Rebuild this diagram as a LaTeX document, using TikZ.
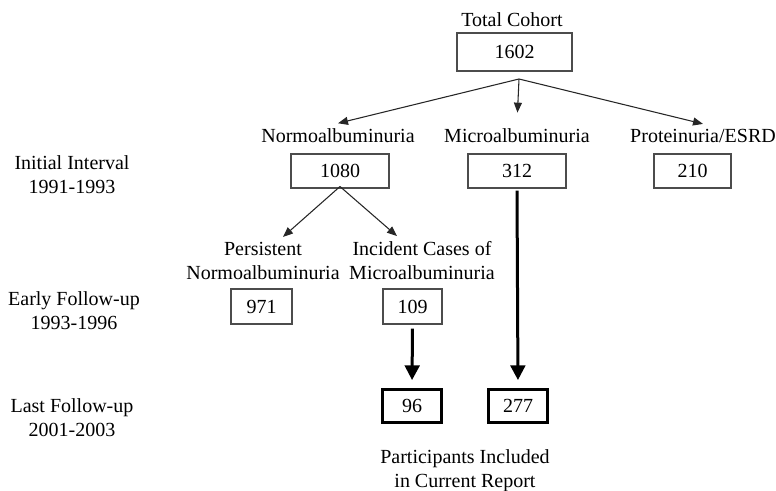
\documentclass[tikz,border=0pt]{standalone}
\usepackage{fontspec}
\setmainfont{Liberation Serif}
\usetikzlibrary{arrows.meta}

\tikzset{every picture/.style={line width=0.75pt}}
\tikzset{
  numbox/.style={draw=black!70, line width=0.8pt, inner sep=0pt, minimum height=25.5pt},
  keybox/.style={draw=black, line width=1.9pt, inner sep=0pt, minimum width=44.6pt, minimum height=25pt},
  lbl/.style={align=center, inner sep=4pt, anchor=base},
  thinarrow/.style={draw=black!85, line width=0.8pt, -{Triangle[length=7.5pt,width=6pt]}},
  thickarrow/.style={line width=2.25pt, -{Triangle[length=11pt,width=11pt]}},
}

\begin{document}
\begin{tikzpicture}[x=0.75pt,y=0.75pt,yscale=-1,xscale=1]
	\useasboundingbox (0,0) rectangle (776,491);
	\fontsize{15}{18}\selectfont

	% Text Node
	\draw (512,27) node[lbl] (totlbl) {Total Cohort};
	%Shape: Rectangle
	\draw (514.5,52) node[numbox, minimum width=86.25pt, minimum height=28.5pt] (b1602) {1602};

	% Text Node
	\draw (338,143) node[lbl] (normlbl) {Normoalbuminuria};
	% Text Node
	\draw (517,143) node[lbl] (microlbl) {Microalbuminuria};
	% Text Node
	\draw (703,143) node[lbl] (protlbl) {Proteinuria/ESRD};

	%Shape: Rectangle
	\draw (340,171) node[numbox, minimum width=73.5pt] (b1080) {1080};
	%Shape: Rectangle
	\draw (517,171) node[numbox, minimum width=73.5pt] (b312) {312};
	%Shape: Rectangle
	\draw (692.5,171) node[numbox, minimum width=57.75pt] (b210) {210};

	% Text Node (base = last line)
	\draw (263,280) node[lbl] (perslbl) {Persistent\\Normoalbuminuria};
	% Text Node
	\draw (422,280) node[lbl] (inclbl) {Incident Cases of\\Microalbuminuria};

	%Shape: Rectangle
	\draw (261.5,306.5) node[numbox, minimum width=45.75pt, minimum height=26.25pt] (b971) {971};
	%Shape: Rectangle
	\draw (412.5,306.5) node[numbox, minimum width=44.25pt, minimum height=26.25pt] (b109) {109};

	%Shape: Rectangle
	\draw (412,406) node[keybox] (b96) {96};
	%Shape: Rectangle
	\draw (518,406) node[keybox] (b277) {277};

	% Text Node
	\draw (465,488) node[lbl] (partlbl) {Participants Included\\in Current Report};

	% Text Node
	\draw (72,194) node[lbl] (initlbl) {Initial Interval\\1991-1993};
	% Text Node
	\draw (74,330) node[lbl] (earlylbl) {Early Follow-up\\1993-1996};
	% Text Node
	\draw (72,437) node[lbl] (lastlbl) {Last Follow-up\\2001-2003};

	%Straight Lines
	\coordinate (split) at (519,79);
	\draw [thinarrow] (split) -- (normlbl.north);
	\draw [thinarrow, shorten >=8pt] (split) -- (microlbl.north);
	\draw [thinarrow] (split) -- (protlbl.north);

	%Straight Lines
	\draw [thinarrow] ([yshift=-1.5pt]b1080.south) -- ([xshift=15pt]perslbl.north);
	\draw [thinarrow] ([yshift=-1.5pt]b1080.south) -- ([xshift=-18.75pt]inclbl.north);

	%Straight Lines
	\draw [thickarrow, shorten <=3pt, shorten >=6pt] (b109.south) -- (b96.north);
	\draw [thickarrow, shorten <=1.5pt, shorten >=6pt] (b312.south) -- (b277.north);

\end{tikzpicture}
\end{document}
